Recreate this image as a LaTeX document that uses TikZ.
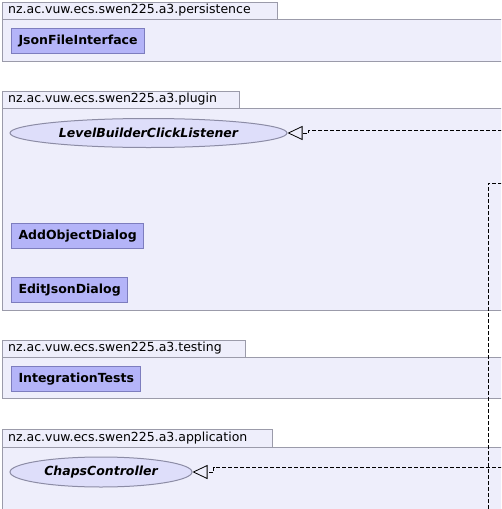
\documentclass[tikz,border=0pt]{standalone}
\usepackage{fontspec}
\setmainfont{DejaVu Sans}
\usetikzlibrary{arrows.meta,shapes.geometric}
\definecolor{pkgfill}{RGB}{238,238,251}
\definecolor{pkgline}{RGB}{155,155,170}
\definecolor{clsfill}{RGB}{180,180,248}
\definecolor{clsline}{RGB}{125,125,190}
\definecolor{ifcfill}{RGB}{222,222,250}
\definecolor{ifcline}{RGB}{140,140,165}

\begin{document}
\begin{tikzpicture}[x=1pt, y=-1pt, font=\fontsize{12.5}{14}\selectfont, >={Triangle[open, length=15pt, width=14pt]},
  pkgbox/.style={draw=pkgline, fill=pkgfill, line width=1pt},
  pkglabel/.style={anchor=west, inner sep=0pt},
  classbox/.style={draw=clsline, fill=clsfill, line width=1pt, anchor=north west, minimum height=25pt, inner xsep=7pt, font=\fontsize{12.5}{14}\selectfont\bfseries},
  ifcell/.style={ellipse, draw=ifcline, fill=ifcfill, line width=1pt, inner sep=0pt, font=\fontsize{12.5}{14}\selectfont\bfseries\itshape},
  dep/.style={black, line width=0.8pt, dash pattern=on 4pt off 2pt}]
  \clip (0,0) rectangle (501,509);
  \fill[white] (0,0) rectangle (501,509);
  % persistence
  \draw[pkgbox] (2,19) rectangle (530,61);
  \draw[pkgbox] (2,2) rectangle (277,19);
  \node[pkglabel] (persLbl) at (8,10.5) {nz.ac.vuw.ecs.swen225.a3.persistence};
  \node[classbox] (jfi) at (11,28) {JsonFileInterface};
  % plugin
  \draw[pkgbox] (2,108) rectangle (530,310);
  \draw[pkgbox] (2,91) rectangle (239,108);
  \node[pkglabel] (plugLbl) at (8,99.5) {nz.ac.vuw.ecs.swen225.a3.plugin};
  \node[ifcell, minimum width=277pt, minimum height=29pt] (lbcl) at (148.5,133) {LevelBuilderClickListener};
  \node[classbox] (aod) at (11,223) {AddObjectDialog};
  \node[classbox] (ejd) at (11,277) {EditJsonDialog};
  % testing
  \draw[pkgbox] (2,357) rectangle (530,398);
  \draw[pkgbox] (2,340) rectangle (245,357);
  \node[pkglabel] (testLbl) at (8,348.5) {nz.ac.vuw.ecs.swen225.a3.testing};
  \node[classbox] (itest) at (11,366) {IntegrationTests};
  % application
  \draw[pkgbox] (2,447) rectangle (530,530);
  \draw[pkgbox] (2,429) rectangle (272,447);
  \node[pkglabel] (appLbl) at (8,438) {nz.ac.vuw.ecs.swen225.a3.application};
  \node[ifcell, minimum width=182pt, minimum height=30pt] (cc) at (101,472) {ChapsController};
  % realizations coming in from the right
  \coordinate (lbclSrc) at (520,130);
  \coordinate (ccSrc) at (520,467);
  \coordinate (downSrc) at (520,183);
  \coordinate (downDst) at (488,520);
  \draw[dep, ->] (lbclSrc) -| ([xshift=21pt]lbcl.east) -- (lbcl.east);
  \draw[dep, ->] (ccSrc) -| ([xshift=21pt]cc.east) -- (cc.east);
  \draw[dep] (downSrc) -| (downDst);
\end{tikzpicture}
\end{document}
